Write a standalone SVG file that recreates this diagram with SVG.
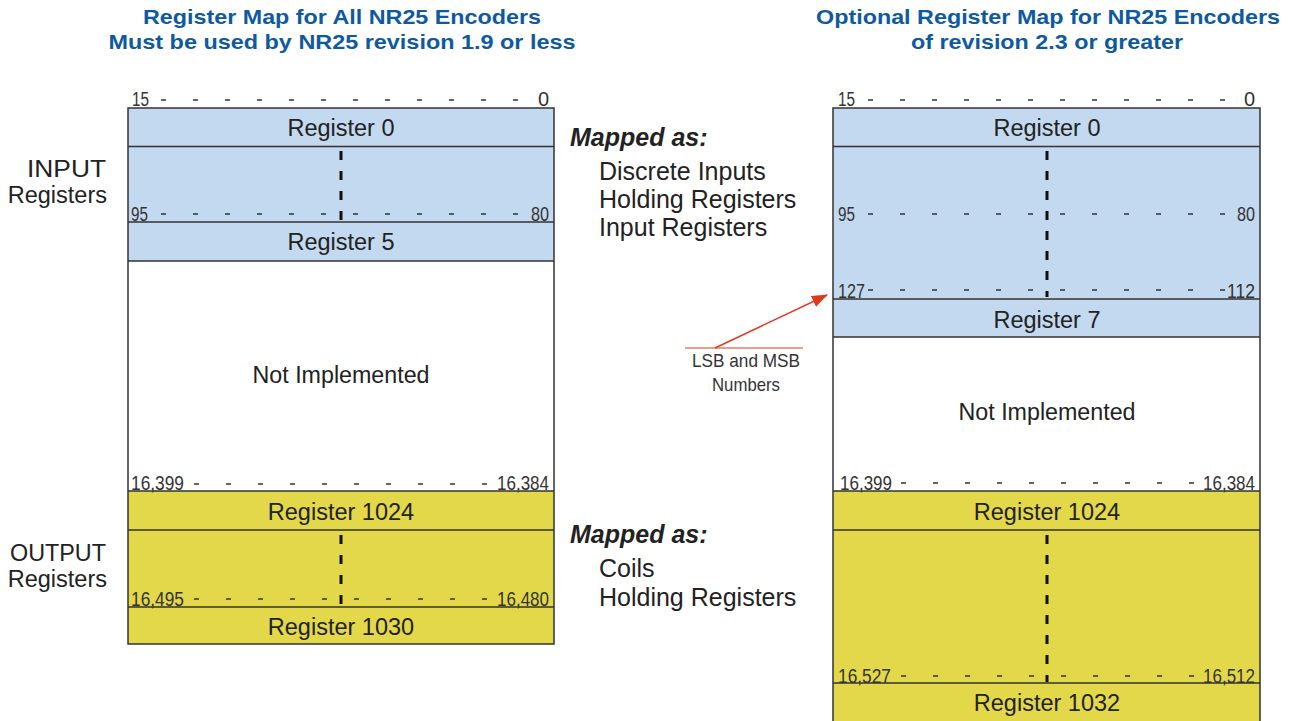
<svg xmlns="http://www.w3.org/2000/svg" width="1298" height="721" viewBox="0 0 1298 721">
<defs>
<style>
.title{font-family:"Liberation Sans",Arial,sans-serif;font-weight:bold;font-size:20.5px;fill:#0D5AA0;text-anchor:middle}
.reg{font-family:"Liberation Sans",Arial,sans-serif;font-size:23.5px;fill:#222;text-anchor:middle}
.lbl{font-family:"Liberation Sans",Arial,sans-serif;font-size:23.5px;fill:#222}
.map{font-family:"Liberation Sans",Arial,sans-serif;font-size:25px;fill:#222}
.mapb{font-family:"Liberation Sans",Arial,sans-serif;font-size:25px;font-weight:bold;font-style:italic;fill:#222}
.num{font-family:"Liberation Sans",Arial,sans-serif;font-size:20px;fill:#333}
.numr{font-family:"Liberation Sans",Arial,sans-serif;font-size:20px;fill:#333;text-anchor:end}
.note{font-family:"Liberation Sans",Arial,sans-serif;font-size:19px;fill:#333;text-anchor:middle}
.blue{fill:#C3D9EF}
.yel{fill:#E3D84A}
.hl{stroke:#333;stroke-width:1.5;fill:none}
.tick{stroke:#333;stroke-width:1.3;stroke-dasharray:5 27;fill:none}
.vd{stroke:#111;stroke-width:3;stroke-dasharray:9 11;fill:none}
</style>
<marker id="ah" markerWidth="16" markerHeight="12" refX="15" refY="6" orient="auto" markerUnits="userSpaceOnUse">
<path d="M0,0 L16,6 L0,12 Z" fill="#E03A1E"/>
</marker>
</defs>
<rect width="1298" height="721" fill="#fff"/>

<g id="titles">
<text class="title" x="342" y="24" textLength="398" lengthAdjust="spacingAndGlyphs">Register Map for All NR25 Encoders</text>
<text class="title" x="342" y="49" textLength="467" lengthAdjust="spacingAndGlyphs">Must be used by NR25 revision 1.9 or less</text>
<text class="title" x="1048" y="24" textLength="464" lengthAdjust="spacingAndGlyphs">Optional Register Map for NR25 Encoders</text>
<text class="title" x="1047" y="49" textLength="272" lengthAdjust="spacingAndGlyphs">of revision 2.3 or greater</text>
</g>

<g id="side-labels">
<text class="lbl" x="27" y="177" textLength="79" lengthAdjust="spacingAndGlyphs">INPUT</text>
<text class="lbl" x="107" y="203" text-anchor="end">Registers</text>
<text class="lbl" x="10" y="561" textLength="96" lengthAdjust="spacingAndGlyphs">OUTPUT</text>
<text class="lbl" x="107" y="587" text-anchor="end">Registers</text>
</g>

<g id="mapping-input">
<text class="mapb" x="570" y="146">Mapped as:</text>
<text class="map" x="599" y="180">Discrete Inputs</text>
<text class="map" x="599" y="208">Holding Registers</text>
<text class="map" x="599" y="236">Input Registers</text>
</g>
<g id="mapping-output">
<text class="mapb" x="570" y="543">Mapped as:</text>
<text class="map" x="599" y="577">Coils</text>
<text class="map" x="599" y="606">Holding Registers</text>
</g>

<!-- Left map -->
<g id="left-map">
<rect class="blue" x="128" y="108" width="426" height="153"/>
<rect x="128" y="261" width="426" height="230" fill="#fff"/>
<rect class="yel" x="128" y="491" width="426" height="153"/>
<path class="hl" d="M128 108 V644 H554 V108 Z M128 146.5 H554 M128 222 H554 M128 261 H554 M128 491 H554 M128 530 H554 M128 607 H554"/>
<path class="tick" d="M161 100 H520 M161 214 H520 M194 484 H490 M194 599 H490"/>
<path class="vd" d="M341 151 V222 M341 535 V607"/>
<text class="num" x="132" y="106" textLength="17" lengthAdjust="spacingAndGlyphs">15</text><text class="numr" x="549" y="106">0</text>
<text class="num" x="131" y="221" textLength="17" lengthAdjust="spacingAndGlyphs">95</text><text class="numr" x="549" y="221" textLength="18" lengthAdjust="spacingAndGlyphs">80</text>
<text class="num" x="131" y="490" textLength="53" lengthAdjust="spacingAndGlyphs">16,399</text><text class="numr" x="549" y="490" textLength="52" lengthAdjust="spacingAndGlyphs">16,384</text>
<text class="num" x="131" y="606" textLength="53" lengthAdjust="spacingAndGlyphs">16,495</text><text class="numr" x="549" y="606" textLength="52" lengthAdjust="spacingAndGlyphs">16,480</text>
<text class="reg" x="341" y="136">Register 0</text>
<text class="reg" x="341" y="250">Register 5</text>
<text class="reg" x="341" y="383" textLength="177" lengthAdjust="spacingAndGlyphs">Not Implemented</text>
<text class="reg" x="341" y="520">Register 1024</text>
<text class="reg" x="341" y="635">Register 1030</text>
</g>

<!-- Right map -->
<g id="right-map">
<rect class="blue" x="833" y="108" width="427" height="229"/>
<rect x="833" y="337" width="427" height="154" fill="#fff"/>
<rect class="yel" x="833" y="491" width="427" height="232"/>
<path class="hl" d="M833 723 V108 H1260 V723 M833 146.5 H1260 M833 299 H1260 M833 337 H1260 M833 491 H1260 M833 530 H1260 M833 683 H1260"/>
<path class="tick" d="M868 100 H1227 M868 214 H1227 M868 290 H1227 M901 483 H1197 M901 676 H1197"/>
<path class="vd" d="M1047 151 V297 M1047 535 V682"/>
<text class="num" x="838" y="106" textLength="17" lengthAdjust="spacingAndGlyphs">15</text><text class="numr" x="1255" y="106">0</text>
<text class="num" x="838" y="221" textLength="17" lengthAdjust="spacingAndGlyphs">95</text><text class="numr" x="1255" y="221" textLength="18" lengthAdjust="spacingAndGlyphs">80</text>
<text class="num" x="838" y="298" textLength="27" lengthAdjust="spacingAndGlyphs">127</text><text class="numr" x="1255" y="298" textLength="28" lengthAdjust="spacingAndGlyphs">112</text>
<text class="num" x="840" y="490" textLength="52" lengthAdjust="spacingAndGlyphs">16,399</text><text class="numr" x="1255" y="490" textLength="52" lengthAdjust="spacingAndGlyphs">16,384</text>
<text class="num" x="838" y="683" textLength="53" lengthAdjust="spacingAndGlyphs">16,527</text><text class="numr" x="1255" y="683" textLength="52" lengthAdjust="spacingAndGlyphs">16,512</text>
<text class="reg" x="1047" y="136">Register 0</text>
<text class="reg" x="1047" y="328">Register 7</text>
<text class="reg" x="1047" y="420" textLength="177" lengthAdjust="spacingAndGlyphs">Not Implemented</text>
<text class="reg" x="1047" y="520">Register 1024</text>
<text class="reg" x="1047" y="711">Register 1032</text>
</g>

<g id="connectors">
<path d="M685 348 H803" stroke="#E03A1E" stroke-width="1.2" fill="none"/>
<path d="M715 348 L827 295" stroke="#E03A1E" stroke-width="1.5" fill="none" marker-end="url(#ah)"/>
</g>
<g id="note">
<text class="note" x="746" y="367" textLength="108" lengthAdjust="spacingAndGlyphs">LSB and MSB</text>
<text class="note" x="746" y="391" textLength="68" lengthAdjust="spacingAndGlyphs">Numbers</text>
</g>
</svg>
